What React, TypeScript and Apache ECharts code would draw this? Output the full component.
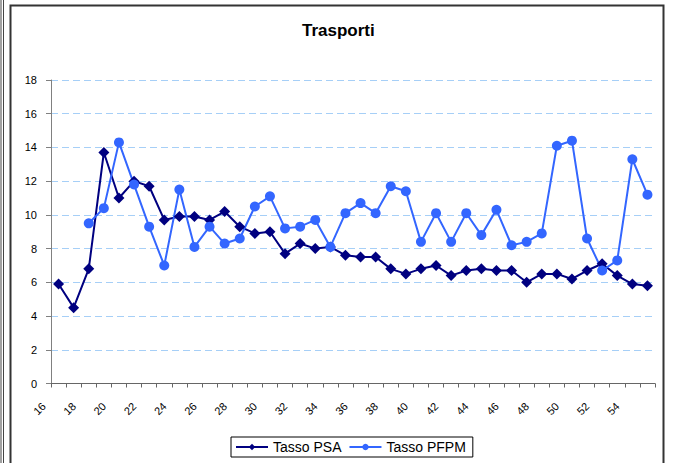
import React, { useEffect, useRef } from "react";
import * as echarts from "echarts";

const categories = [
  "16", "17", "18", "19", "20", "21", "22", "23", "24", "25",
  "26", "27", "28", "29", "30", "31", "32", "33", "34", "35",
  "36", "37", "38", "39", "40", "41", "42", "43", "44", "45",
  "46", "47", "48", "49", "50", "51", "52", "53", "54", "55",
];

const tassoPSA = [
  5.9, 4.5, 6.8, 13.7, 11.0, 12.0, 11.7, 9.7, 9.9, 9.9,
  9.7, 10.2, 9.3, 8.9, 9.0, 7.7, 8.3, 8.0, 8.1, 7.6,
  7.5, 7.5, 6.8, 6.5, 6.8, 7.0, 6.4, 6.7, 6.8, 6.7,
  6.7, 6.0, 6.5, 6.5, 6.2, 6.7, 7.1, 6.4, 5.9, 5.8,
];

const tassoPFPM = [
  null, null, 9.5, 10.4, 14.3, 11.8, 9.3, 7.0, 11.5, 8.1,
  9.3, 8.3, 8.6, 10.5, 11.1, 9.2, 9.3, 9.7, 8.1, 10.1,
  10.7, 10.1, 11.7, 11.4, 8.4, 10.1, 8.4, 10.1, 8.8, 10.3,
  8.2, 8.4, 8.9, 14.1, 14.4, 8.6, 6.7, 7.3, 13.3, 11.2,
];

const yTicks = { min: 0, max: 18, interval: 2 };

const FONT = "'Liberation Sans', Arial, sans-serif";

export default function App() {
  const ref = useRef<HTMLDivElement>(null);

  useEffect(() => {
    if (!ref.current) return;
    const chart = echarts.init(ref.current, null, { renderer: "svg" });
    chart.setOption({
      animation: false,
      backgroundColor: "#ffffff",
      textStyle: { fontFamily: FONT },
      title: {
        text: "Trasporti",
        left: 302,
        top: 22,
        padding: 0,
        textStyle: { fontSize: 17, fontWeight: "bold", color: "#000", fontFamily: FONT },
      },
      graphic: [
        { type: "line", shape: { x1: 1, y1: 0, x2: 1, y2: 463 }, style: { stroke: "#444", lineWidth: 1 } },
        { type: "line", shape: { x1: 3.5, y1: 0, x2: 3.5, y2: 463 }, style: { stroke: "#444", lineWidth: 1 } },
        {
          type: "rect",
          shape: { x: 10.5, y: 5.5, width: 653, height: 480 },
          style: { fill: "none", stroke: "#333", lineWidth: 2 },
          silent: true,
        },
      ],
      legend: {
        left: 231,
        top: 437,
        padding: [3, 7, 3, 4],
        itemGap: 7,
        itemWidth: 32,
        itemHeight: 8,
        borderColor: "#000",
        borderWidth: 1,
        textStyle: { fontSize: 14, color: "#000", fontFamily: FONT },
        data: ["Tasso PSA", "Tasso PFPM"],
      },
      grid: { left: 51, right: 18, top: 80, bottom: 79.5, containLabel: false },
      xAxis: {
        type: "category",
        data: categories,
        boundaryGap: true,
        axisLine: { lineStyle: { color: "#666", width: 1 } },
        axisTick: { show: true, interval: 0, length: 4, lineStyle: { color: "#666" } },
        axisLabel: {
          interval: 1,
          rotate: 45,
          margin: 6,
          padding: [0, 21, 0, 0],
          fontSize: 11,
          color: "#000",
          fontFamily: FONT,
        },
        splitLine: { show: false },
      },
      yAxis: {
        type: "value",
        min: yTicks.min,
        max: yTicks.max,
        interval: yTicks.interval,
        axisLine: { show: true, lineStyle: { color: "#808080", width: 1 } },
        axisTick: { show: true, length: 5, lineStyle: { color: "#808080" } },
        axisLabel: { margin: 14, fontSize: 11, color: "#000", fontFamily: FONT },
        splitLine: { show: true, lineStyle: { color: "#a6cff7", type: [7, 4], width: 1 } },
      },
      series: [
        {
          name: "Tasso PSA",
          type: "line",
          data: tassoPSA,
          color: "#000080",
          symbol: "diamond",
          symbolSize: 11,
          showSymbol: true,
          showAllSymbol: true,
          lineStyle: { width: 2, color: "#000080" },
          itemStyle: { color: "#000080" },
        },
        {
          name: "Tasso PFPM",
          type: "line",
          data: tassoPFPM,
          color: "#3366ff",
          symbol: "circle",
          symbolSize: 10,
          showSymbol: true,
          showAllSymbol: true,
          lineStyle: { width: 2, color: "#3366ff" },
          itemStyle: { color: "#3366ff" },
        },
      ],
    });
    return () => chart.dispose();
  }, []);

  return (
    <div
      ref={ref}
      style={{ position: "fixed", left: 0, top: 0, width: 673, height: 463 }}
    />
  );
}
